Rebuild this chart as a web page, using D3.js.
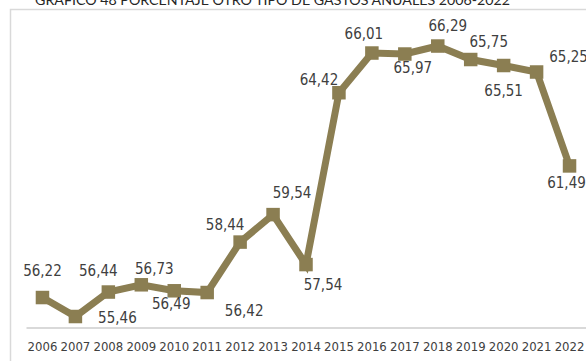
<!DOCTYPE html>
<html>
<head>
<meta charset="utf-8">
<script src="https://cdn.jsdelivr.net/npm/d3@7"></script>
<style>
  html, body { margin: 0; padding: 0; background: #ffffff; }
  svg { display: block; }
</style>
</head>
<body>
<div id="chart"></div>
<script>
// ---- data ----
const titleText = "GRÁFICO 48 PORCENTAJE OTRO TIPO DE GASTOS ANUALES 2006-2022";
const years = ["2006","2007","2008","2009","2010","2011","2012","2013","2014","2015","2016","2017","2018","2019","2020","2021","2022"];
const values = [56.22, 55.46, 56.44, 56.73, 56.49, 56.42, 58.44, 59.54, 57.54, 64.42, 66.01, 65.97, 66.29, 65.75, 65.51, 65.25, 61.49];
const yDomain = [55, 67];

// ---- layout (label placement offsets, px) ----
const labelOffsets = [[0,-27],[42,1],[-10,-21.5],[13,-16],[-3,13],[37,18.5],[-15,-17],[19,-22],[17,20],[-20,-13],[-8,-19],[8,13.5],[10,-20],[18,-17.5],[0,25.5],[32,-15],[-3,17]];

const W = 586, H = 361;
const color = "#8b7e52";
const textColor = "#404040";
const gridColor = "#d9d9d9";

const svg = d3.select("#chart").append("svg").attr("width", W).attr("height", H);

// outer chart border (clipped by the picture)
svg.append("rect").attr("x", 10.5).attr("y", 9.5).attr("width", 620).attr("height", 400)
  .attr("fill", "none").attr("stroke", gridColor).attr("stroke-width", 1.5);

// title (mostly cut off at the top)
svg.append("text").attr("x", 35).attr("y", 4.5)
  .attr("textLength", 475).attr("lengthAdjust", "spacingAndGlyphs")
  .attr("font-family", "Lato, 'DejaVu Sans', sans-serif").attr("font-weight", 400)
  .attr("font-size", 14).attr("fill", "#262626").text(titleText);

const x = d3.scaleBand().domain(years).range([26, 586]);
const y = d3.scaleLinear().domain(yDomain).range([328, 28.3]);
const cx = d => x(d) + x.bandwidth() / 2;

// category axis
const xAxis = svg.append("g").attr("transform", "translate(0,327.5)")
  .call(d3.axisBottom(x).tickSize(0).tickPadding(14));
xAxis.select(".domain").attr("stroke", gridColor).attr("stroke-width", 2);
xAxis.selectAll("text")
  .attr("font-family", "'DejaVu Sans Condensed', 'DejaVu Sans', sans-serif")
  .attr("font-size", 13).attr("fill", textColor);

const data = years.map((yr, i) => ({ yr, v: values[i], off: labelOffsets[i] }));

// line
svg.append("path").datum(data)
  .attr("fill", "none").attr("stroke", color).attr("stroke-width", 7)
  .attr("stroke-linejoin", "miter")
  .attr("d", d3.line().x(d => cx(d.yr)).y(d => y(d.v)));

// markers
const ms = 13.5;
svg.selectAll("rect.m").data(data).enter().append("rect").attr("class", "m")
  .attr("x", d => cx(d.yr) - ms / 2).attr("y", d => y(d.v) - ms / 2)
  .attr("width", ms).attr("height", ms).attr("fill", color);

// data labels
const fmt = v => d3.format(".2f")(v).replace(".", ",");
svg.selectAll("text.lbl").data(data).enter().append("text").attr("class", "lbl")
  .attr("x", d => cx(d.yr) + d.off[0])
  .attr("y", d => y(d.v) + d.off[1] + 5.4)
  .attr("text-anchor", "middle")
  .attr("font-family", "'DejaVu Sans Condensed', 'DejaVu Sans', sans-serif")
  .attr("font-size", 15).attr("fill", textColor)
  .text(d => fmt(d.v));
</script>
</body>
</html>
